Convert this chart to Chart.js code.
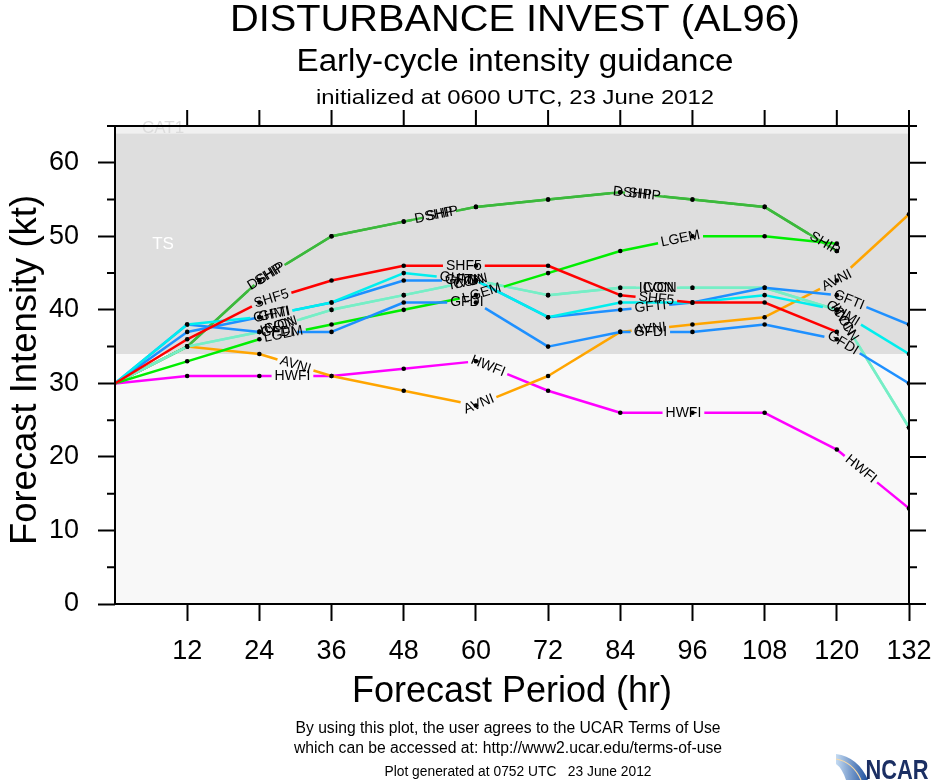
<!DOCTYPE html>
<html lang="en">
<head>
<meta charset="UTF-8">
<title>DISTURBANCE INVEST (AL96)</title>
<style>
  html, body { margin: 0; padding: 0; background: #fff; }
  #wrap { width: 932px; height: 780px; }
</style>
</head>
<body>
<div id="wrap"><canvas id="chart" width="932" height="780"></canvas></div>
<script src="https://cdn.jsdelivr.net/npm/chart.js@4"></script>
<script>
const FONT = '"Liberation Sans", Arial, Helvetica, sans-serif';
const LABEL_FONT = '14px ' + FONT;

// forecast hours and axis ticks
const hours = [0, 12, 24, 36, 48, 60, 72, 84, 96, 108, 120, 132];
const xTickValues = [12, 24, 36, 48, 60, 72, 84, 96, 108, 120, 132];
const yTickValues = [0, 10, 20, 30, 40, 50, 60];

// intensity (kt) per model
const dshp = [30, 35, 44, 50, 52, 54, 55, 56, 55, 54, 48];
const ship = [30, 35, 44, 50, 52, 54, 55, 56, 55, 54, 48];
const shf5 = [30, 36, 41, 44, 46, 46, 46, 42, 41, 41, 37];
const lgem = [30, 33, 36, 38, 40, 42, 45, 48, 50, 50, 49];
const ghmi = [30, 38, 39, 41, 45, 44, 39, 41, 41, 42, 40, 34];
const gfti = [30, 37, 39, 41, 44, 44, 39, 40, 41, 43, 42, 38];
const gfdi = [30, 38, 37, 37, 41, 41, 35, 37, 37, 38, 36, 30];
const icon = [30, 35, 37, 40, 42, 44, 42, 43, 43, 43, 40, 24];
const ivcn = [30, 35, 37, 40, 42, 44, 42, 43, 43, 43, 40, 24];
const avni = [30, 35, 34, 31, 29, 27, 31, 37, 38, 39, 44, 53];
const hwfi = [30, 31, 31, 31, 32, 33, 29, 26, 26, 26, 21, 13];

// look of each model line, and where its name sits along it (hours)
const series = [
  { name: 'SHF5', data: shf5, color: '#ff0000', labelAt: [26, 58, 90] },
  { name: 'GHMI', data: ghmi, color: '#00eeee', labelAt: [26, 57, 121] },
  { name: 'GFTI', data: gfti, color: '#1e90ff', labelAt: [26.5, 57.5, 89, 122] },
  { name: 'GFDI', data: gfdi, color: '#1e90ff', labelAt: [27, 58.5, 89, 121] },
  { name: 'LGEM', data: lgem, color: '#00ee00', labelAt: [28, 61, 94] },
  { name: 'ICON', data: icon, color: '#76eec6', labelAt: [27, 58.5, 90, 121] },
  { name: 'IVCN', data: ivcn, color: '#76eec6', labelAt: [27.6, 59.2, 90.6, 121.6] },
  { name: 'DSHP', data: dshp, color: '#3cb93c', labelAt: [25, 53, 86] },
  { name: 'SHIP', data: ship, color: '#3cb93c', labelAt: [25.8, 54.4, 88, 118] },
  { name: 'AVNI', data: avni, color: '#ffa500', labelAt: [30, 60.5, 89, 120] },
  { name: 'HWFI', data: hwfi, color: '#ff00ff', labelAt: [29.5, 62, 94.5, 124] }
];

function arcInfo(chart, di) {
  const pts = chart.getDatasetMeta(di).data;
  const cum = [0];
  for (let i = 1; i < pts.length; i++) {
    cum.push(cum[i - 1] + Math.hypot(pts[i].x - pts[i - 1].x, pts[i].y - pts[i - 1].y));
  }
  return { pts, cum };
}

function labelSpots(chart, di) {
  const s = series[di];
  const { pts, cum } = arcInfo(chart, di);
  const c = chart.ctx;
  c.save();
  c.font = LABEL_FONT;
  const w = c.measureText(s.name).width + 6;
  c.restore();
  return s.labelAt.map(h => {
    let i = 0;
    while (i < pts.length - 2 && hours[i + 1] < h) i++;
    const t = (h - hours[i]) / (hours[i + 1] - hours[i]);
    const a = pts[i], b = pts[i + 1];
    const mid = cum[i] + t * (cum[i + 1] - cum[i]);
    return {
      x: a.x + t * (b.x - a.x),
      y: a.y + t * (b.y - a.y),
      ang: Math.atan2(b.y - a.y, b.x - a.x),
      from: mid - w / 2,
      to: mid + w / 2
    };
  });
}

// leave a gap in the line where its name is written
function gapDash(ctx) {
  const { cum } = arcInfo(ctx.chart, ctx.datasetIndex);
  const s0 = cum[ctx.p0DataIndex], s1 = cum[ctx.p1DataIndex];
  for (const sp of labelSpots(ctx.chart, ctx.datasetIndex)) {
    const a = Math.max(sp.from, s0), b = Math.min(sp.to, s1);
    if (b > a) return [a - s0, b - a, 5000];
  }
  return undefined;
}

const bands = {
  id: 'bands',
  beforeDatasetsDraw(chart) {
    const { ctx, chartArea: ca, scales: { y } } = chart;
    ctx.save();
    ctx.fillStyle = '#f8f8f8';
    ctx.fillRect(ca.left, ca.top, ca.width, ca.height);
    const y34 = y.getPixelForValue(34), y64 = y.getPixelForValue(64);
    ctx.fillStyle = '#dedede';
    ctx.fillRect(ca.left, y64, ca.width, y34 - y64);
    ctx.fillStyle = '#f1f1f1';
    ctx.fillRect(ca.left, ca.top, ca.width, y64 - ca.top);
    ctx.font = '17px ' + FONT;
    ctx.textAlign = 'center';
    ctx.fillStyle = '#ffffff';
    ctx.fillText('TS', 163, 249);
    ctx.fillStyle = '#dcdcdc';
    ctx.fillText('CAT1', 163, 133);
    ctx.restore();
  }
};

const lineLabels = {
  id: 'lineLabels',
  afterDatasetsDraw(chart) {
    const ctx = chart.ctx;
    ctx.save();
    ctx.font = LABEL_FONT;
    ctx.fillStyle = '#000';
    ctx.textAlign = 'center';
    ctx.textBaseline = 'middle';
    series.forEach((s, di) => {
      labelSpots(chart, di).forEach(sp => {
        ctx.save();
        ctx.translate(sp.x, sp.y);
        ctx.rotate(sp.ang);
        ctx.fillText(s.name, 0, 0);
        ctx.restore();
      });
    });
    ctx.restore();
  }
};

const frame = {
  id: 'frame',
  afterDraw(chart) {
    const { ctx, chartArea: ca, scales: { x, y } } = chart;
    ctx.save();
    ctx.strokeStyle = '#000';
    ctx.lineWidth = 2;
    ctx.strokeRect(ca.left, ca.top, ca.width, ca.height);
    ctx.beginPath();
    for (let v = 0; v <= 65; v += 5) {
      const py = y.getPixelForValue(v);
      const len = v % 10 === 0 ? 17 : 8;
      if (v % 10 !== 0) { ctx.moveTo(ca.left - 8, py); ctx.lineTo(ca.left, py); }
      ctx.moveTo(ca.right, py); ctx.lineTo(ca.right + len, py);
    }
    xTickValues.forEach(v => {
      const px = x.getPixelForValue(v);
      ctx.moveTo(px, ca.top); ctx.lineTo(px, ca.top - 16);
    });
    ctx.stroke();
    ctx.restore();
  }
};

function fitText(c, text, cx, base, size, width, weight) {
  c.font = (weight || '') + ' ' + size + 'px ' + FONT;
  const w = c.measureText(text).width;
  c.save();
  c.translate(cx, base);
  c.scale(width / w, 1);
  c.textAlign = 'center';
  c.textBaseline = 'alphabetic';
  c.fillText(text, 0, 0);
  c.restore();
}

const texts = {
  id: 'texts',
  afterDraw(chart) {
    const c = chart.ctx;
    c.save();
    c.fillStyle = '#000';
    fitText(c, 'DISTURBANCE INVEST (AL96)', 515, 31, 36, 570);
    fitText(c, 'Early-cycle intensity guidance', 515, 71, 31, 437);
    fitText(c, 'initialized at 0600 UTC, 23 June 2012', 515, 104, 21, 398);
    fitText(c, 'Forecast Period (hr)', 512, 702, 36, 320);
    c.save();
    c.translate(36, 370);
    c.rotate(-Math.PI / 2);
    fitText(c, 'Forecast Intensity (kt)', 0, 0, 36, 350);
    c.restore();
    fitText(c, 'By using this plot, the user agrees to the UCAR Terms of Use', 508, 733, 16, 425);
    fitText(c, 'which can be accessed at: http://www2.ucar.edu/terms-of-use', 508, 753, 16, 428);
    fitText(c, 'Plot generated at 0752 UTC   23 June 2012', 518, 776, 14, 267);

    // NCAR logo
    const g = c.createLinearGradient(836, 0, 868, 0);
    g.addColorStop(0, '#c4dbf2');
    g.addColorStop(1, '#1d4f9e');
    c.fillStyle = g;
    c.beginPath();
    c.moveTo(836, 754);
    c.quadraticCurveTo(858, 757, 868, 780);
    c.lineTo(846, 780);
    c.quadraticCurveTo(842, 768, 836, 764);
    c.closePath();
    c.fill();
    c.strokeStyle = '#f6d9a8';
    c.lineWidth = 1.2;
    c.beginPath();
    c.moveTo(836, 759);
    c.quadraticCurveTo(853, 762, 861, 780);
    c.stroke();
    c.fillStyle = '#1b2f63';
    fitText(c, 'NCAR', 897, 779, 28, 63, 'bold');
    c.restore();
  }
};

new Chart(document.getElementById('chart'), {
  type: 'line',
  data: {
    datasets: series.map(s => ({
      label: s.name,
      data: s.data.map((v, i) => ({ x: hours[i], y: v })),
      borderColor: s.color,
      borderWidth: 2.5,
      pointRadius: ctx => (ctx.dataIndex === 0 ? 0 : 2.3),
      pointHoverRadius: 0,
      pointBackgroundColor: '#000',
      pointBorderWidth: 0,
      tension: 0,
      fill: false,
      segment: { borderDash: gapDash }
    }))
  },
  options: {
    responsive: false,
    animation: false,
    events: [],
    layout: { padding: { top: 126, right: 23, left: 0, bottom: 0 } },
    plugins: { legend: { display: false }, title: { display: false }, tooltip: { enabled: false } },
    scales: {
      x: {
        type: 'linear',
        min: 0,
        max: 132,
        afterBuildTicks: s => { s.ticks = xTickValues.map(v => ({ value: v })); },
        afterFit: s => { s.height = 176; s.paddingLeft = 0; s.paddingRight = 0; },
        grid: { drawOnChartArea: false, tickLength: 17, tickWidth: 2, tickColor: '#000' },
        border: { display: false },
        ticks: { color: '#000', font: { family: FONT, size: 27 }, padding: 14, maxRotation: 0, autoSkip: false }
      },
      y: {
        type: 'linear',
        min: 0,
        max: 65,
        afterBuildTicks: s => { s.ticks = yTickValues.map(v => ({ value: v })); },
        afterFit: s => { s.width = 115; s.paddingTop = 0; s.paddingBottom = 0; },
        grid: { drawOnChartArea: false, tickLength: 17, tickWidth: 2, tickColor: '#000' },
        border: { display: false },
        ticks: { color: '#000', font: { family: FONT, size: 27 }, padding: 19 }
      }
    }
  },
  plugins: [bands, lineLabels, frame, texts]
});
</script>
</body>
</html>
